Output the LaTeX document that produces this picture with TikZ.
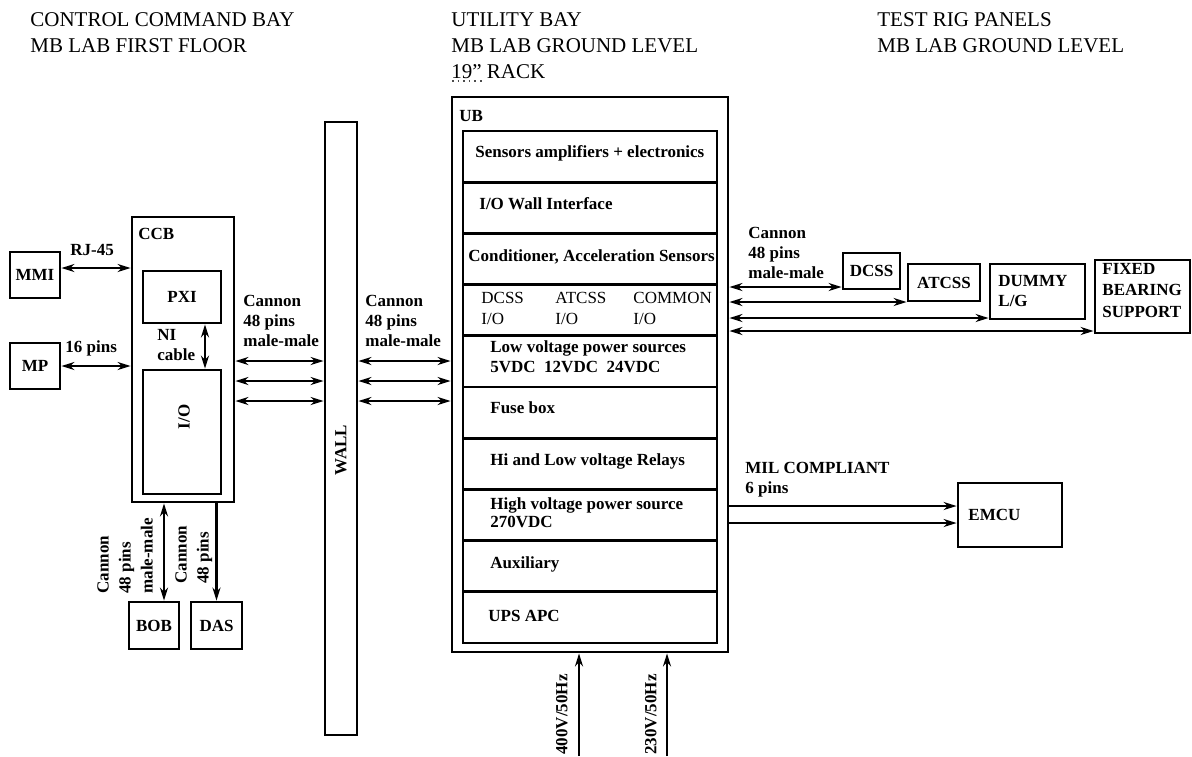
\documentclass[tikz,border=0pt]{standalone}
\usepackage{fontspec}
\setmainfont{Liberation Serif}
\usetikzlibrary{positioning,arrows.meta,fit}

\begin{document}
\begin{tikzpicture}[x=0.5pt, y=-0.5pt,
  box/.style={draw, line width=1.4pt, inner sep=0pt},
  boxtxt/.style={inner sep=0pt, font=\fontsize{8.5}{10}\selectfont\bfseries},
  hdr/.style={anchor=north west, align=left, inner sep=0pt, font=\fontsize{10.5}{13}\selectfont},
  lbl/.style={anchor=north west, align=left, inner sep=0pt, font=\fontsize{8.5}{10}\selectfont\bfseries},
  rowtxt/.style={anchor=west, align=left, inner sep=0pt, font=\fontsize{8.5}{10}\selectfont\bfseries},
  iotxt/.style={anchor=north west, align=left, inner sep=0pt, font=\fontsize{8.5}{10.5}\selectfont},
  dbl/.style={{Stealth[length=6.5pt,width=4pt]}-{Stealth[length=6.5pt,width=4pt]}, line width=1.2pt},
  sgl/.style={-{Stealth[length=6.5pt,width=4pt]}, line width=1.2pt}]
  \useasboundingbox (0,0) rectangle (1192,756);

  % headers
  \node[hdr] (ccbhdr) at (30,12) {CONTROL COMMAND BAY\\MB LAB FIRST FLOOR};
  \node[hdr] (ubhdr) at (451,12) {UTILITY BAY\\MB LAB GROUND LEVEL\\19” RACK};
  \node[hdr] (righdr) at (877,12) {TEST RIG PANELS\\MB LAB GROUND LEVEL};
  \draw[dotted, line width=0.8pt, black!70] (452,81) -- (483,81);

  % control command bay
  \node[box, fit={(10,252)(60,298)}] (mmi) {};
  \node[boxtxt] at (mmi) {MMI};
  \node[box, fit={(10,343)(60,389)}] (mp) {};
  \node[boxtxt] at (mp) {MP};
  \node[box, fit={(132,217)(234,502)}] (ccb) {};
  \node[lbl] (ccblbl) at (138,228) {CCB};
  \node[box, fit={(143,271)(221,323)}] (pxi) {};
  \node[boxtxt] at (pxi) {PXI};
  \node[box, fit={(143,370)(221,494)}] (io) {};
  \node[boxtxt, rotate=90] (iolbl) at (184,417) {I/O};
  \node[lbl] (nilbl) at (157,329) {NI\\cable};
  \node[box, fit={(129,602)(179,649)}] (bob) {};
  \node[boxtxt] at (bob) {BOB};
  \node[box, fit={(191,602)(242,649)}] (das) {};
  \node[boxtxt] at (das) {DAS};

  % wall
  \node[box, fit={(325,122)(357,735)}] (wall) {};
  \node[boxtxt, rotate=90] (walllbl) at (341,450) {WALL};

  % utility bay rack
  \node[box, fit={(452,97)(728,652)}] (ub) {};
  \node[lbl] (ublbl) at (459,110) {UB};
  \foreach \i in {0,...,9}
    \node[box, fit={(463,131+51.2*\i)(717,182.2+51.2*\i)}] (row\i) {};
  \node[rowtxt] at (475,153) {Sensors amplifiers + electronics};
  \node[rowtxt] at (479,204) {I/O Wall Interface};
  \node[rowtxt] at (468,257) {Conditioner, Acceleration Sensors};
  \node[iotxt] at (481,292) {DCSS\\I/O};
  \node[iotxt] at (555,292) {ATCSS\\I/O};
  \node[iotxt] at (633,292) {COMMON\\I/O};
  \node[lbl] at (490,340) {Low voltage power sources\\5VDC\ \ 12VDC\ \ 24VDC};
  \node[rowtxt] at (490,408) {Fuse box};
  \node[rowtxt] at (490,461) {Hi and Low voltage Relays};
  \node[lbl, font=\fontsize{8.5}{9}\selectfont\bfseries] at (490,497) {High voltage power source\\270VDC};
  \node[rowtxt] at (490,564) {Auxiliary};
  \node[rowtxt] at (488,616) {UPS APC};

  % test rig panels
  \node[box, fit={(843,253)(900,289)}] (dcss) {};
  \node[boxtxt] at (dcss) {DCSS};
  \node[box, fit={(908,264)(980,301)}] (atcss) {};
  \node[boxtxt] at (atcss) {ATCSS};
  \node[box, fit={(990,264)(1085,319)}] (dummy) {};
  \node[lbl] at (998,275) {DUMMY\\L/G};
  \node[box, fit={(1095,260)(1190,333)}] (fixed) {};
  \node[lbl, font=\fontsize{8.5}{10.7}\selectfont\bfseries] at (1102,263) {FIXED\\BEARING\\SUPPORT};
  \node[box, fit={(958,483)(1062,547)}] (emcu) {};
  \node[rowtxt] at (968,515) {EMCU};

  % connector labels
  \node[lbl] at (70,244) {RJ-45};
  \node[lbl] at (65,340) {16 pins};
  \node[lbl] at (243,295) {Cannon\\48 pins\\male-male};
  \node[lbl] at (365,295) {Cannon\\48 pins\\male-male};
  \node[lbl] at (748,227) {Cannon\\48 pins\\male-male};
  \node[lbl] at (745,462) {MIL COMPLIANT\\6 pins};
  \node[lbl, rotate=90, font=\fontsize{8.5}{11}\selectfont\bfseries] at (97,594) {Cannon\\48 pins\\male-male};
  \node[lbl, rotate=90, font=\fontsize{8.5}{11}\selectfont\bfseries] at (175,584) {Cannon\\48 pins};
  \node[lbl, rotate=90, anchor=south west] at (568,755) {400V/50Hz};
  \node[lbl, rotate=90, anchor=south west] at (657,755) {230V/50Hz};

  % connectors
  \coordinate (rj) at ([yshift=3.5pt]mmi.east);
  \draw[dbl] (rj) -- (rj -| ccb.west);
  \draw[dbl] (mp.east) -- (mp.east -| ccb.west);
  \coordinate (ni) at ([xshift=11.5pt]pxi.south);
  \draw[dbl] (ni) -- (ni |- io.north);
  \coordinate (bobin) at ([xshift=5pt]bob.north);
  \draw[dbl] (bobin |- ccb.south) -- (bobin);
  \draw[sgl] (das.north |- ccb.south) -- (das.north);
  \foreach \y in {361,381,401} {
    \draw[dbl] (ccb.east |- 0,\y) -- (wall.west |- 0,\y);
    \draw[dbl] (wall.east |- 0,\y) -- (ub.west |- 0,\y);
  }
  \draw[dbl] (ub.east |- 0,287) -- (dcss.west |- 0,287);
  \draw[dbl] (ub.east |- 0,302) -- (atcss.west |- 0,302);
  \draw[dbl] (ub.east |- 0,318) -- (dummy.west |- 0,318);
  \draw[dbl] (ub.east |- 0,331) -- (fixed.west |- 0,331);
  \foreach \y in {506,523}
    \draw[sgl] (ub.east |- 0,\y) -- (emcu.west |- 0,\y);
  \coordinate (in400) at (579,756);
  \coordinate (in230) at (667,756);
  \draw[sgl] (in400) -- (in400 |- ub.south);
  \draw[sgl] (in230) -- (in230 |- ub.south);
\end{tikzpicture}
\end{document}
